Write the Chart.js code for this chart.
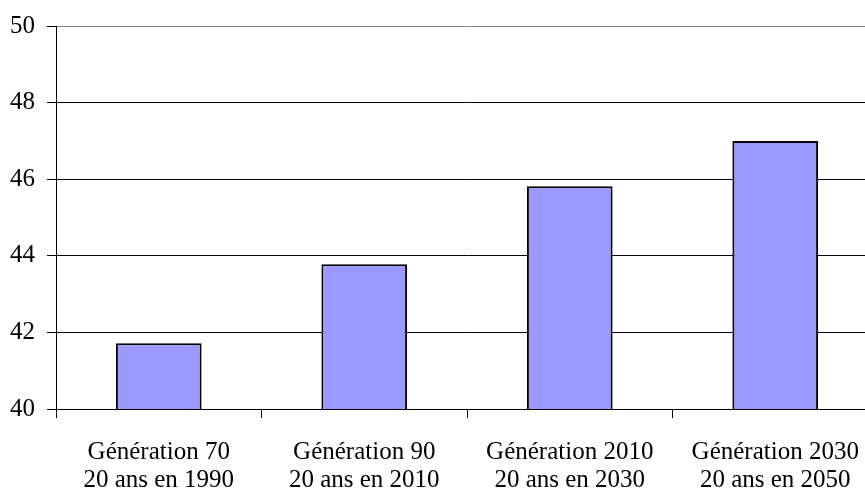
<!DOCTYPE html>
<html>
<head>
<meta charset="utf-8">
<script src="https://cdn.jsdelivr.net/npm/chart.js@4/dist/chart.umd.min.js"></script>
<style>
  html, body { margin: 0; padding: 0; background: #fff; overflow: hidden; }
</style>
</head>
<body>
<canvas id="chart" width="880" height="495"></canvas>
<script>
const categories = [
    ['Génération 70', '20 ans en 1990'],
    ['Génération 90', '20 ans en 2010'],
    ['Génération 2010', '20 ans en 2030'],
    ['Génération 2030', '20 ans en 2050'],
];
const values = [41.72, 43.78, 45.82, 47.0];
const yTicks = [40, 42, 44, 46, 48, 50];

const tickFont = { family: '"Liberation Serif", "Times New Roman", serif', size: 25, lineHeight: 1.14 };

const data = {
    labels: categories,
    datasets: [{
        data: values,
        backgroundColor: '#9999FF',
        borderColor: '#000000',
        borderWidth: 2,
        categoryPercentage: 1,
        barPercentage: 0.417
    }]
};

const config = {
    type: 'bar',
    data: data,
    options: {
        responsive: false,
        animation: false,
        layout: {
            padding: { top: 7, left: 0, right: 2, bottom: 0 }
        },
        plugins: {
            legend: { display: false },
            tooltip: { enabled: false }
        },
        scales: {
            y: {
                min: 40,
                max: 50,
                afterBuildTicks: (axis) => {
                    axis.ticks = yTicks.map(v => ({ value: v }));
                },
                afterFit: (axis) => { axis.width = 56; },
                border: { color: '#000000', width: 1 },
                grid: {
                    // top line is the grey plot border
                    color: (context) => context.tick.value === 50 ? '#808080' : '#000000',
                    tickLength: 9,
                    tickColor: '#000000'
                },
                ticks: {
                    color: '#000000',
                    padding: 12,
                    font: tickFont
                }
            },
            x: {
                afterFit: (axis) => { axis.height = 86; },
                border: { color: '#000000', width: 1 },
                grid: {
                    offset: true,
                    drawOnChartArea: false,
                    tickLength: 9,
                    color: '#000000'
                },
                ticks: {
                    color: '#000000',
                    padding: 20,
                    maxRotation: 0,
                    font: tickFont
                }
            }
        }
    }
};

new Chart(document.getElementById('chart'), config);
</script>
</body>
</html>
